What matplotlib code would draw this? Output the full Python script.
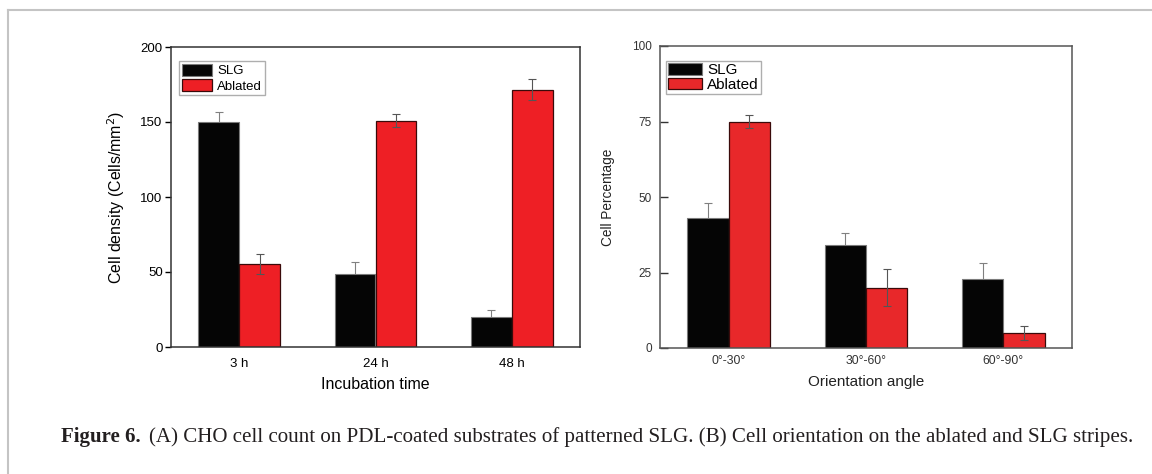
import numpy as np
import matplotlib
matplotlib.use("Agg")
import matplotlib.pyplot as plt
from matplotlib.lines import Line2D

plt.rcParams['font.family'] = ['Liberation Sans', 'DejaVu Sans']

# Panel A data
time_labels = ['3 h', '24 h', '48 h']
slg_density = [150, 49, 20]
slg_density_err = [6.5, 8, 5]
abl_density = [55.5, 151, 171.5]
abl_density_err = [6.5, 4.5, 7]

# Panel B data
angle_labels = ['0°-30°', '30°-60°', '60°-90°']
slg_pct = [43, 34, 23]
slg_pct_err = [5, 4, 5]
abl_pct = [75, 20, 5]
abl_pct_err = [2, 6, 2.3]

BLACK = '#050505'
RED = '#EE1F25'
W, H = 1152, 474

fig = plt.figure(figsize=(W / 100, H / 100), dpi=100)

# light gray frame round the figure (top and left lines)
fig.add_artist(Line2D([8 / W, 8 / W], [0, 1 - 10 / H], color='#c4c4c4', lw=1.5))
fig.add_artist(Line2D([8 / W, 1], [1 - 10 / H, 1 - 10 / H], color='#c4c4c4', lw=1.5))

bw = 0.30


def draw_panel(ax, labels, slg, slg_err, abl, abl_err, red):
    x = np.arange(len(labels))
    ax.bar(x - bw / 2, slg, bw, color=BLACK, edgecolor='#7a7a7a', linewidth=0.8,
           label='SLG', zorder=2)
    ax.bar(x + bw / 2, abl, bw, color=red, edgecolor='#3a0a0a', linewidth=0.9,
           label='Ablated', zorder=2)
    # SLG error bars sit behind the black bars, so only the upper half shows
    ax.errorbar(x - bw / 2, slg, yerr=slg_err, fmt='none', ecolor='#808080',
                elinewidth=0.8, capsize=3, capthick=0.8, zorder=1)
    ax.errorbar(x + bw / 2, abl, yerr=abl_err, fmt='none', ecolor='#555555',
                elinewidth=0.8, capsize=3, capthick=0.8, zorder=3)
    ax.set_xlim(-0.5, len(labels) - 0.5)
    ax.set_xticks(x)
    ax.set_xticklabels(labels)
    ax.tick_params(axis='x', length=0, pad=8)


def style_legend(leg):
    leg.get_frame().set_edgecolor('#9a9a9a')
    leg.get_frame().set_linewidth(1)


# Panel A
ax1 = fig.add_axes([171 / W, 1 - 347 / H, 409 / W, 300 / H])
draw_panel(ax1, time_labels, slg_density, slg_density_err,
           abl_density, abl_density_err, RED)
ax1.set_ylim(0, 200)
ax1.set_yticks([0, 50, 100, 150, 200])
ax1.tick_params(axis='y', direction='out', length=4, width=1, labelsize=9.5, pad=2)
ax1.tick_params(axis='x', labelsize=9.5)
ax1.set_xlabel('Incubation time', fontsize=11.5, labelpad=5)
ax1.set_ylabel('Cell density (Cells/mm$^2$)', fontsize=11.5, labelpad=10)
for s in ax1.spines.values():
    s.set_color('#333333')
    s.set_linewidth(1.1)
leg1 = ax1.legend(loc='upper left', bbox_to_anchor=(179 / W, 1 - 61 / H),
                  bbox_transform=fig.transFigure, fontsize=9.5, frameon=True,
                  fancybox=False, handlelength=2.3, handleheight=1.1,
                  handletextpad=0.4, borderpad=0.2, labelspacing=0.1,
                  borderaxespad=0)
style_legend(leg1)

# Panel B
ax2 = fig.add_axes([660 / W, 1 - 348 / H, 412 / W, 302 / H])
draw_panel(ax2, angle_labels, slg_pct, slg_pct_err, abl_pct, abl_pct_err, '#E8282A')
ax2.set_ylim(0, 100)
ax2.set_yticks([0, 25, 50, 75, 100])
ax2.tick_params(axis='y', direction='in', length=6, width=1, labelsize=8.5,
                pad=6, colors='#333333')
ax2.tick_params(axis='x', labelsize=8.8, colors='#333333', pad=5)
ax2.set_xlabel('Orientation angle', fontsize=11, labelpad=6, color='#222222')
ax2.set_ylabel('Cell Percentage', fontsize=9.8, labelpad=12, color='#222222')
for s in ax2.spines.values():
    s.set_color('#555555')
    s.set_linewidth(1.1)
leg2 = ax2.legend(loc='upper left', bbox_to_anchor=(666 / W, 1 - 61 / H),
                  bbox_transform=fig.transFigure, fontsize=11, frameon=True,
                  fancybox=False, handlelength=2.2, handleheight=0.75,
                  handletextpad=0.35, borderpad=0.15, labelspacing=0.05,
                  borderaxespad=0)
style_legend(leg2)

# caption
cap_y = 1 - 437 / H
t1 = fig.text(61 / W, cap_y, 'Figure 6.', fontsize=15, fontweight='bold',
              family='Liberation Serif', va='center', ha='left', color='#231f20')
fig.canvas.draw()
bb = t1.get_window_extent()
fig.text((bb.x1 + 8) / W, cap_y,
         '(A) CHO cell count on PDL-coated substrates of patterned SLG. '
         '(B) Cell orientation on the ablated and SLG stripes.',
         fontsize=15.1, family='Liberation Serif', va='center', ha='left',
         color='#231f20')

fig.savefig('out.png', dpi=100)
